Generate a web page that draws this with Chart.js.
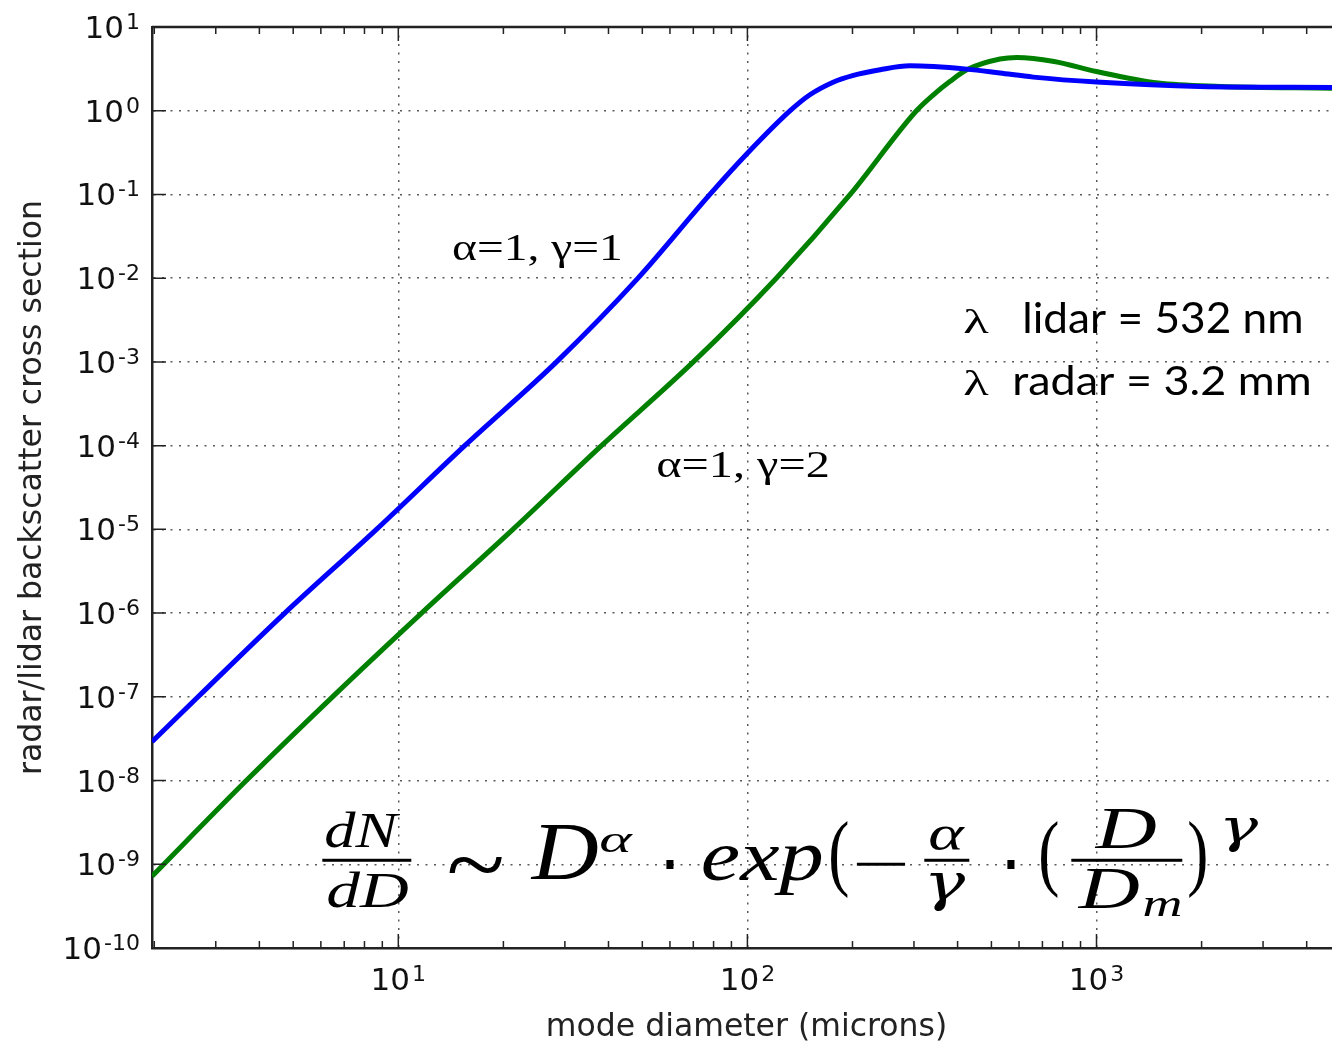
<!DOCTYPE html>
<html>
<head>
<meta charset="utf-8">
<script src="https://cdn.jsdelivr.net/npm/chart.js@4.4.1/dist/chart.umd.min.js"></script>
<style>
  html, body { margin: 0; padding: 0; background: #fff; }
  #wrap { width: 1332px; height: 1044px; position: relative; }
</style>
</head>
<body>
<div id="wrap"><canvas id="grafico"></canvas></div>
<script>
// blue curve: alpha=1, gamma=1
const diamAzul = [1.97, 2.67, 4.73, 8.66, 15.5, 28.4, 48.6, 78.1, 100, 132.6, 151, 176, 200, 240, 292, 425, 529, 659, 1000, 1977, 4727];
const sigmaAzul = [2.9e-8, 1.0e-7, 1.0e-6, 1.0e-5, 1.0e-4, 1.0e-3, 1.0e-2, 0.1, 0.31, 1.0, 1.55, 2.19, 2.63, 3.09, 3.44, 3.14, 2.82, 2.52, 2.2, 1.95, 1.9];

// green curve: alpha=1, gamma=2
const diamVerde = [1.97, 3.67, 6.48, 11.66, 21.3, 38.2, 70, 121, 197, 305, 341, 380, 425, 529, 591, 756, 1000, 1502, 2265, 4727];
const sigmaVerde = [7.2e-10, 1.0e-8, 1.0e-7, 1.0e-6, 1.0e-5, 1.0e-4, 1.0e-3, 1.0e-2, 0.1, 1.0, 1.55, 2.23, 3.08, 4.14, 4.33, 3.88, 2.94, 2.14, 1.95, 1.86];

// tick exponents and minor ticks
const xExponentes = [1, 2, 3];
const yExponentes = [1, 0, -1, -2, -3, -4, -5, -6, -7, -8, -9, -10];
const xMenores = [2, 3, 4, 5, 6, 7, 8, 9, 20, 30, 40, 50, 60, 70, 80, 90, 200, 300, 400, 500, 600, 700, 800, 900, 2000, 3000, 4000];

const xMin = 1.97;
const xMax = 4727;

const tituloX = "mode diameter (microns)";
const tituloY = "radar/lidar backscatter cross section";

function puntos(xs, ys) {
  return xs.map((x, i) => ({ x: x, y: ys[i] }));
}

// draws text so its ink fills the given box
function cajaTexto(ctx, str, fuente, x, top, w, h) {
  ctx.font = fuente;
  ctx.textAlign = "left";
  ctx.textBaseline = "alphabetic";
  const m = ctx.measureText(str);
  const inkW = m.actualBoundingBoxLeft + m.actualBoundingBoxRight;
  const inkH = m.actualBoundingBoxAscent + m.actualBoundingBoxDescent;
  const sx = w / inkW;
  const sy = h / inkH;
  ctx.save();
  ctx.translate(x + m.actualBoundingBoxLeft * sx, top + m.actualBoundingBoxAscent * sy);
  ctx.scale(sx, sy);
  ctx.fillText(str, 0, 0);
  ctx.restore();
}

function potencia(ctx, exp, x, y, alinear) {
  const base = "10";
  const sup = String(exp);
  ctx.textAlign = "left";
  ctx.textBaseline = "alphabetic";
  ctx.font = "31px 'DejaVu Sans'";
  const w1 = ctx.measureText(base).width;
  ctx.font = "22px 'DejaVu Sans'";
  const w2 = ctx.measureText(sup).width;
  const gap = 2;
  let inicio = x - (w1 + gap + w2) / 2;
  if (alinear === "right") inicio = x - (w1 + gap + w2);
  ctx.font = "31px 'DejaVu Sans'";
  ctx.fillText(base, inicio, y);
  ctx.font = "22px 'DejaVu Sans'";
  ctx.fillText(sup, inicio + w1 + gap, y - 9);
}

const serifIt = "italic 60px 'Liberation Serif'";
const serif = "60px 'Liberation Serif'";
const griegaIt = "italic 60px 'DejaVu Serif'";

// formula pieces: text, font, box offset from (10, 1e-9)
const formula = [
  ["dN", serifIt, -73, -53, 75, 37],
  ["dD", serifIt, -71, 7, 81, 37],
  ["~", serif, 50, -8, 54, 16],
  ["D", serifIt, 132, -38, 68, 53],
  ["\u03B1", serifIt, 202, -30, 33, 18],
  ["\u22C5", serif, 268, -5, 8, 8],
  ["exp", serifIt, 304, -18, 120, 49],
  ["(", serif, 432, -43, 18, 77],
  ["\u2212", serif, 457, -2, 50, 4],
  ["\u03B1", serifIt, 531, -37, 36, 24],
  ["\u03B3", griegaIt, 531, 8, 36, 38],
  ["\u22C5", serif, 609, -5, 8, 8],
  ["(", serif, 642, -43, 18, 77],
  ["D", serifIt, 696, -54, 62, 38],
  ["D", serifIt, 679, 6, 62, 38],
  ["m", serifIt, 746, 34, 36, 18],
  [")", serif, 790, -43, 18, 77],
  ["\u03B3", griegaIt, 826, -47, 34, 34]
];
const barras = [[-76, 89], [526, 45], [673, 111]];

const decorado = {
  id: "decorado",
  afterDraw(chart) {
    const ctx = chart.ctx;
    const xs = chart.scales.x;
    const ys = chart.scales.y;
    const area = chart.chartArea;
    ctx.save();

    // top frame
    ctx.strokeStyle = "#222";
    ctx.lineWidth = 2.5;
    ctx.beginPath();
    ctx.moveTo(area.left, area.top);
    ctx.lineTo(area.right, area.top);
    ctx.stroke();

    // inward tick marks
    ctx.lineWidth = 1.5;
    ctx.beginPath();
    xExponentes.forEach((e) => {
      const px = xs.getPixelForValue(Math.pow(10, e));
      ctx.moveTo(px, area.bottom); ctx.lineTo(px, area.bottom - 14);
      ctx.moveTo(px, area.top); ctx.lineTo(px, area.top + 14);
    });
    xMenores.forEach((v) => {
      if (v < xMin || v > xMax) return;
      const px = xs.getPixelForValue(v);
      ctx.moveTo(px, area.bottom); ctx.lineTo(px, area.bottom - 7);
      ctx.moveTo(px, area.top); ctx.lineTo(px, area.top + 7);
    });
    yExponentes.forEach((e) => {
      const py = ys.getPixelForValue(Math.pow(10, e));
      ctx.moveTo(area.left, py); ctx.lineTo(area.left + 14, py);
    });
    ctx.stroke();

    // tick labels
    ctx.fillStyle = "#111";
    xExponentes.forEach((e) => {
      potencia(ctx, e, xs.getPixelForValue(Math.pow(10, e)), area.bottom + 42, "center");
    });
    yExponentes.forEach((e) => {
      potencia(ctx, e, area.left - 12, ys.getPixelForValue(Math.pow(10, e)) + 11, "right");
    });

    // axis titles
    ctx.fillStyle = "#222";
    ctx.font = "31.5px 'DejaVu Sans'";
    ctx.textAlign = "center";
    ctx.textBaseline = "alphabetic";
    ctx.fillText(tituloX, (area.left + 1341) / 2, 1036);
    ctx.save();
    ctx.translate(41, (area.top + area.bottom) / 2);
    ctx.rotate(-Math.PI / 2);
    ctx.fillText(tituloY, 0, 0);
    ctx.restore();

    // curve labels
    ctx.fillStyle = "#000";
    const a1x = xs.getPixelForValue(10), a1y = ys.getPixelForValue(1e-2);
    cajaTexto(ctx, "\u03B1=1, \u03B3=1", "40px 'Liberation Serif'", a1x + 55, a1y - 43, 167, 33);
    const a2x = xs.getPixelForValue(100), a2y = ys.getPixelForValue(1e-4);
    cajaTexto(ctx, "\u03B1=1, \u03B3=2", "40px 'Liberation Serif'", a2x - 90, a2y + 7, 170, 33);

    // wavelength note
    const lx = xs.getPixelForValue(1000), ly = ys.getPixelForValue(1e-2);
    cajaTexto(ctx, "\u03BB", "40px 'Liberation Serif'", lx - 132, ly + 32, 25, 23);
    cajaTexto(ctx, "lidar = 532 nm", "40px Lato", lx - 72, ly + 23, 277, 32);
    cajaTexto(ctx, "\u03BB", "40px 'Liberation Serif'", lx - 132, ly + 92, 25, 25);
    cajaTexto(ctx, "radar = 3.2 mm", "40px Lato", lx - 82, ly + 87, 295, 30);

    // size distribution formula
    const fx = xs.getPixelForValue(10), fy = ys.getPixelForValue(1e-9);
    formula.forEach((p) => {
      cajaTexto(ctx, p[0], p[1], fx + p[2], fy + p[3], p[4], p[5]);
    });
    barras.forEach((b) => {
      ctx.fillRect(fx + b[0], fy - 5.5, b[1], 3);
    });

    ctx.restore();
  }
};

new Chart(document.getElementById("grafico"), {
  type: "line",
  data: {
    datasets: [
      {
        label: "\u03B1=1, \u03B3=1",
        data: puntos(diamAzul, sigmaAzul),
        borderColor: "#0000ff",
        borderWidth: 5,
        pointRadius: 0,
        fill: false,
        cubicInterpolationMode: "monotone"
      },
      {
        label: "\u03B1=1, \u03B3=2",
        data: puntos(diamVerde, sigmaVerde),
        borderColor: "#008000",
        borderWidth: 5,
        pointRadius: 0,
        fill: false,
        cubicInterpolationMode: "monotone"
      }
    ]
  },
  options: {
    responsive: true,
    maintainAspectRatio: false,
    animation: false,
    layout: { padding: { left: 152, top: 27, right: 0, bottom: 96 } },
    plugins: { legend: { display: false }, tooltip: { enabled: false } },
    scales: {
      x: {
        type: "logarithmic",
        min: xMin,
        max: xMax,
        afterBuildTicks: (scale) => {
          scale.ticks = xExponentes.map((e) => ({ value: Math.pow(10, e) }));
        },
        ticks: { display: false },
        grid: { color: "rgba(0,0,0,0.65)", lineWidth: 1.5, drawTicks: false },
        border: { display: true, color: "#222", width: 2.5, dash: [2, 6.5] }
      },
      y: {
        type: "logarithmic",
        min: 1e-10,
        max: 10,
        afterBuildTicks: (scale) => {
          scale.ticks = yExponentes.map((e) => ({ value: Math.pow(10, e) }));
        },
        ticks: { display: false },
        grid: { color: "rgba(0,0,0,0.65)", lineWidth: 1.5, drawTicks: false },
        border: { display: true, color: "#222", width: 2.5, dash: [2, 6.5] }
      }
    }
  },
  plugins: [decorado]
});
</script>
</body>
</html>
